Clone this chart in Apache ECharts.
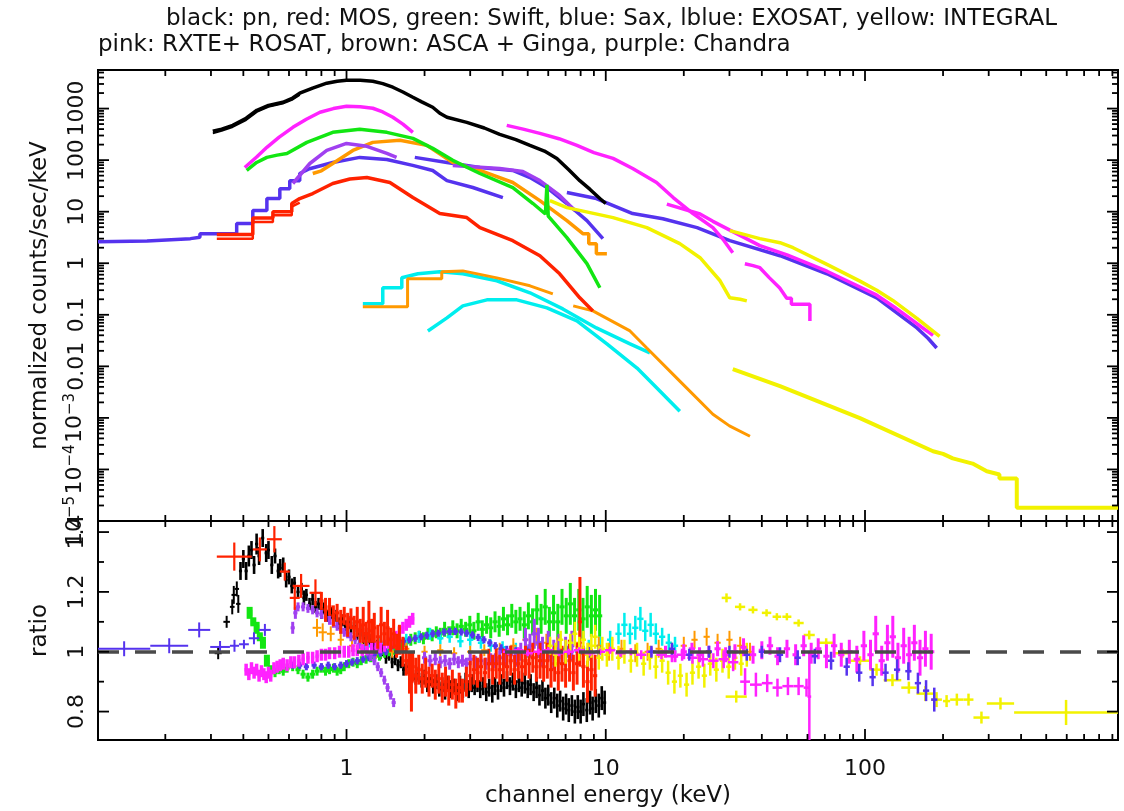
<!DOCTYPE html>
<html><head><meta charset="utf-8">
<script src="https://cdn.jsdelivr.net/npm/echarts@6/dist/echarts.min.js"></script>
<style>html,body{margin:0;padding:0;background:#fff}#c{width:1124px;height:811px}</style>
</head><body><div id="c"></div>
<script>
// ---------- axis ticks / labels ----------
var xRange = [0.11, 946];
var yTopRange = [1e-5, 5600];
var ratioRange = [0.705, 1.437];
var xMajorTicks = [1, 10, 100];
var xTickLabels = ['1', '10', '100'];
var xMinorTicks = [0.2,0.3,0.4,0.5,0.6,0.7,0.8,0.9,2,3,4,5,6,7,8,9,20,30,40,50,60,70,80,90,200,300,400,500,600,700,800,900];
var yTopMajorTicks = [1e-5,1e-4,1e-3,0.01,0.1,1,10,100,1000];
var yTopTickLabels = ['{b|10}{s|\u22125}','{b|10}{s|\u22124}','{b|10}{s|\u22123}','{b|0.01}','{b|0.1}','{b|1}','{b|10}','{b|100}','{b|1000}'];
var yTopMinorTicks = [2e-5,3e-5,4e-5,5e-5,6e-5,7e-5,8e-5,9e-5,2e-4,3e-4,4e-4,5e-4,6e-4,7e-4,8e-4,9e-4,2e-3,3e-3,4e-3,5e-3,6e-3,7e-3,8e-3,9e-3,0.02,0.03,0.04,0.05,0.06,0.07,0.08,0.09,0.2,0.3,0.4,0.5,0.6,0.7,0.8,0.9,2,3,4,5,6,7,8,9,20,30,40,50,60,70,80,90,200,300,400,500,600,700,800,900,2000,3000,4000,5000];
var ratioMajorTicks = [0.8, 1, 1.2, 1.4];
var ratioTickLabels = ['0.8', '1', '1.2', '1.4'];
var ratioMinorTicks = [0.9, 1.1, 1.3];
var ratioReference = 1;

// ---------- top panel: spectra [keV, counts/s/keV] ----------
var pnSpec = [[0.305,362],[0.33,400],[0.364,473],[0.41,650],[0.451,927],[0.50,1150],[0.568,1327],[0.62,1600],[0.66,1986],[0.74,2500],[0.839,3105],[0.92,3400],[1.0,3553],[1.13,3550],[1.263,3398],[1.38,3050],[1.509,2596],[1.65,2100],[1.803,1659],[1.95,1350],[2.15,1060],[2.3,800],[2.44,677],[2.91,541],[3.4,420],[3.9,316],[4.5,250],[5.1,193],[5.8,150],[6.48,108],[7.2,65],[7.94,40],[8.7,27],[9.49,18],[10.0,14.4]];
var pnModel = [[0.305,330],[0.33,370],[0.364,440],[0.41,600],[0.451,860],[0.50,1080],[0.568,1250],[0.62,1500],[0.66,1850]];
var mosSpec = [[0.316,3.6],[0.435,3.6],[0.435,7.5],[0.52,7.5],[0.52,10],[0.615,10],[0.615,14.4],[0.66,18],[0.741,22.5],[0.885,35.2],[1.03,43],[1.198,46],[1.47,36.8],[1.803,18.8],[2.29,9.2],[2.91,7.68],[3.27,4.9],[4.38,2.74],[5.57,1.4],[6.64,0.625],[7.94,0.213],[8.92,0.119]];
var mosModel = [[0.316,3.0],[0.435,3.0],[0.435,6.3],[0.52,6.3],[0.52,8.5],[0.615,8.5],[0.615,12.5],[0.66,15]];
var swiftSpec = [[0.412,63],[0.45,90],[0.493,113],[0.54,125],[0.589,135],[0.703,221],[0.885,346],[1.125,396],[1.431,346],[1.803,264],[2.15,169],[2.57,99],[3.27,55],[4.38,29.4],[5.24,14.4],[5.85,9.0],[5.93,33],[6.0,8.2],[7.08,3.13],[8.46,0.98],[9.49,0.334]];
var saxLecsSpec = [[0.11,2.6],[0.17,2.7],[0.25,3.0],[0.272,3.2],[0.272,3.75],[0.377,3.75],[0.377,5.9],[0.435,5.9],[0.435,10.5],[0.493,10.5],[0.493,18],[0.553,18],[0.553,28],[0.604,28],[0.604,40],[0.66,40],[0.66,55],[0.72,68],[0.885,90],[1.125,113],[1.43,103],[1.8,79],[2.15,63],[2.44,40],[3.07,29.4],[4.01,18.8]];
var saxMecsSpec = [[1.834,113],[2.44,90],[3.27,72],[4.38,63],[5.1,46],[5.93,29.4],[7.08,14.4],[8.46,6.71],[9.75,3.0]];
var saxPdsSpec = [[7.08,23.5],[9.2,18],[12.7,9.2],[16.6,7.3],[22.5,4.9],[30.1,2.74],[47,1.4],[71.3,0.625],[111,0.213],[158.6,0.0556],[175,0.035],[189,0.0227]];
var exosatLeSpec = [[1.156,0.163],[1.38,0.163],[1.38,0.334],[1.634,0.334],[1.634,0.522],[1.885,0.625],[2.29,0.684],[2.81,0.625],[3.8,0.457],[5.1,0.267],[6.83,0.13],[9.2,0.0556],[12.4,0.0272],[14.8,0.0182]];
var exosatMeSpec = [[2.06,0.0486],[2.44,0.087],[2.81,0.149],[3.48,0.195],[4.54,0.195],[5.93,0.136],[7.74,0.076],[10.1,0.0272],[13.2,0.00927],[16.2,0.0033],[19.3,0.00135]];
var ascaSpec = [[0.741,55],[0.8,62],[0.885,86],[1.058,154],[1.263,221],[1.606,242],[2.04,193],[2.57,90],[3.27,63],[4.38,36.8],[5.57,16.4],[7.08,6.7],[8.16,3.75],[8.6,3.75],[8.6,2.4],[9.2,2.4],[9.2,1.53],[10.1,1.53]];
var ascaLowSpec = [[1.156,0.143],[1.72,0.143],[1.72,0.5],[2.33,0.5],[2.33,0.68],[2.81,0.71],[3.8,0.52],[5.1,0.365],[6.25,0.255]];
var gingaSpec = [[7.49,0.149],[8.92,0.119],[12.4,0.0486],[14.4,0.0227],[19.3,0.00518],[25.9,0.00118],[30,0.0007],[36,0.00044]];
var chandraSpecA = [[0.621,35.2],[0.722,86],[0.839,154],[1.0,211],[1.198,185],[1.431,135],[1.56,113]];
var chandraSpecB = [[2.57,79],[3.9,69],[4.79,60],[5.57,40],[6.64,20.6],[7.6,10.5]];
var rosatSpec = [[0.405,72],[0.45,115],[0.493,177],[0.55,280],[0.621,433],[0.7,620],[0.79,847],[0.89,1000],[1.0,1109],[1.13,1090],[1.263,1014],[1.38,860],[1.509,677],[1.65,500],[1.803,346]];
var pcaSpec = [[4.15,473],[4.8,400],[5.57,331],[6.6,260],[7.74,193],[9,140],[10.67,108],[12.7,69],[15.7,36.8],[18.2,18.8],[21.7,9.2],[25.9,4.9],[28.5,2.8],[30.9,1.6]];
var hexteSpec = [[17.2,14],[23.1,9],[25.9,6.5],[39.3,2.2],[50,1.45],[71.3,0.7],[90,0.4],[111,0.24],[130,0.14],[149,0.085],[165,0.058],[183,0.04]];
var hexteLowSpec = [[34.4,0.98],[37,0.9],[39.3,0.82],[42.8,0.52],[46.9,0.33],[49.9,0.21],[52,0.21],[52,0.16],[61.3,0.16],[61.3,0.076]];
var jemxSpec = [[6.09,16.4],[7.08,12],[10.67,7.68],[14.4,4.9],[19.3,2.4],[23.1,1.28],[27.6,0.457],[30.1,0.213],[33,0.2],[35,0.186]];
var isgriSpec = [[30.1,4.3],[39.3,3.0],[47,2.5],[52.8,2.0],[71.3,0.95],[95.6,0.45],[111,0.3],[128,0.19],[158.6,0.085],[194,0.038]];
var spiSpec = [[30.9,0.00886],[47,0.00414],[95.6,0.00099],[183,0.000225],[200,0.0002],[218,0.000164],[260,0.00013],[295,0.000092],[330,0.00008],[330,0.000067],[385,0.000067],[385,0.000018],[946,0.000018]];

// ---------- bottom panel: ratios [keV, ratio, error] or [keVlo, keVhi, ratio, error] ----------
var pnRatioLow = [[0.31,0.33,0.995,0.02],[0.335,0.355,1.10,0.02],[0.355,0.37,1.15,0.025],[0.36,0.375,1.19,0.03],[0.37,0.385,1.21,0.025],[0.375,0.39,1.16,0.03]];
var pnRatio = [[0.39,1.27,.03],[0.40,1.31,.03],[0.41,1.27,.03],[0.42,1.32,.035],[0.43,1.34,.03],[0.44,1.29,.03],[0.45,1.36,.035],[0.46,1.32,.03],[0.475,1.38,.03],[0.49,1.33,.03],[0.50,1.34,.03],[0.515,1.29,.03],[0.53,1.32,.025],[0.545,1.27,.025],[0.555,1.28,.03],[0.57,1.29,.025],[0.585,1.24,.025],[0.60,1.25,.025],[0.615,1.22,.025],[0.63,1.23,.02],[0.65,1.20,.02],[0.67,1.21,.02],[0.685,1.18,.025],[0.70,1.19,.02],[0.72,1.16,.02],[0.74,1.175,.02],[0.76,1.15,.02],[0.78,1.16,.02],[0.80,1.13,.02],[0.82,1.145,.02],[0.845,1.12,.02],[0.87,1.13,.02],[0.89,1.11,.02],[0.915,1.12,.02],[0.94,1.095,.02],[0.965,1.105,.02],[0.99,1.085,.02],[1.015,1.10,.02],[1.04,1.08,.02],[1.07,1.085,.02],[1.10,1.06,.02],[1.13,1.07,.02],[1.16,1.045,.02],[1.19,1.06,.02],[1.22,1.035,.02],[1.25,1.04,.02],[1.28,1.015,.02],[1.315,1.02,.02],[1.35,0.995,.02],[1.385,1.005,.02],[1.42,0.98,.02],[1.46,0.99,.02],[1.50,0.965,.02],[1.54,0.975,.02],[1.58,0.955,.02],[1.62,0.965,.02],[1.66,0.94,.02],[1.70,0.95,.025],[1.75,0.925,.02],[1.80,0.935,.025],[1.85,0.91,.02],[1.90,0.925,.025],[1.95,0.90,.02],[2.0,0.915,.025],[2.05,0.89,.025],[2.10,0.905,.02],[2.16,0.885,.025],[2.22,0.90,.025],[2.28,0.875,.025],[2.34,0.89,.025],[2.40,0.87,.03],[2.47,0.895,.025],[2.53,0.875,.03],[2.60,0.885,.025],[2.66,0.865,.03],[2.74,0.89,.03],[2.81,0.87,.025],[2.88,0.90,.03],[2.96,0.875,.03],[3.04,0.895,.03],[3.12,0.88,.025],[3.20,0.895,.03],[3.28,0.875,.03],[3.37,0.885,.03],[3.46,0.865,.03],[3.55,0.88,.03],[3.65,0.86,.03],[3.74,0.885,.03],[3.84,0.87,.03],[3.95,0.895,.03],[4.05,0.88,.03],[4.16,0.905,.03],[4.27,0.885,.03],[4.38,0.90,.03],[4.50,0.875,.03],[4.62,0.90,.035],[4.74,0.88,.03],[4.87,0.895,.035],[5.0,0.875,.03],[5.13,0.89,.035],[5.27,0.865,.03],[5.41,0.88,.035],[5.55,0.855,.035],[5.7,0.87,.035],[5.85,0.845,.035],[6.0,0.855,.035],[6.16,0.83,.035],[6.33,0.845,.035],[6.5,0.82,.04],[6.67,0.835,.035],[6.85,0.81,.04],[7.03,0.825,.035],[7.2,0.805,.04],[7.4,0.82,.035],[7.6,0.80,.04],[7.8,0.815,.04],[8.0,0.80,.04],[8.2,0.825,.04],[8.45,0.805,.04],[8.7,0.83,.04],[8.9,0.81,.04],[9.15,0.835,.04],[9.4,0.82,.04],[9.65,0.845,.04],[9.9,0.83,.04]];
var mosRatioLow = [[0.316,0.431,1.318,0.047],[0.435,0.493,1.342,0.04],[0.493,0.563,1.376,0.044],[0.553,0.604,1.268,0.03],[0.604,0.66,1.18,0.04],[0.62,0.72,1.22,0.04],[0.72,0.80,1.197,0.045]];
var mosRatio = [[0.80,1.17,.03],[0.83,1.14,.04],[0.86,1.15,.03],[0.89,1.12,.035],[0.92,1.13,.03],[0.95,1.10,.04],[0.98,1.12,.03],[1.01,1.09,.04],[1.04,1.11,.035],[1.07,1.08,.04],[1.10,1.10,.05],[1.13,1.07,.04],[1.16,1.09,.06],[1.19,1.06,.04],[1.22,1.10,.07],[1.25,1.07,.04],[1.28,1.08,.05],[1.32,1.05,.04],[1.36,1.09,.06],[1.40,1.06,.04],[1.44,1.08,.06],[1.48,1.04,.04],[1.52,1.06,.05],[1.56,1.02,.04],[1.60,1.04,.05],[1.65,1.0,.05],[1.70,0.97,.05],[1.75,0.93,.07],[1.78,0.90,.10],[1.80,0.95,.05],[1.85,0.92,.06],[1.90,0.94,.05],[1.96,0.91,.05],[2.02,0.93,.05],[2.08,0.90,.05],[2.14,0.92,.04],[2.20,0.89,.05],[2.27,0.91,.05],[2.34,0.88,.05],[2.41,0.90,.05],[2.48,0.87,.05],[2.56,0.89,.05],[2.64,0.86,.05],[2.72,0.88,.05],[2.80,0.87,.04],[2.90,0.90,.05],[3.0,0.92,.05],[3.1,0.94,.05],[3.2,0.93,.05],[3.3,0.95,.05],[3.42,0.93,.05],[3.54,0.96,.05],[3.66,0.94,.05],[3.78,0.96,.05],[3.9,0.94,.05],[4.03,0.96,.05],[4.16,0.95,.05],[4.3,0.97,.05],[4.45,0.94,.05],[4.6,0.96,.05],[4.75,0.95,.05],[4.9,0.97,.05],[5.06,0.96,.05],[5.23,0.98,.05],[5.4,0.95,.05],[5.58,0.97,.06],[5.76,0.95,.05],[5.95,0.97,.06],[6.15,0.94,.06],[6.35,0.96,.06],[6.56,0.93,.06],[6.78,0.96,.06],[7.0,0.94,.06],[7.25,0.97,.07],[7.5,0.93,.06],[7.75,0.96,.07],[7.95,1.10,.15],[8.2,0.95,.07],[8.5,0.90,.07],[8.8,0.94,.07],[9.1,0.92,.07]];
var swiftRatioLow = [[0.423,1.13,.02],[0.437,1.10,.015],[0.45,1.08,.02],[0.463,1.05,.015],[0.476,1.03,.02],[0.493,0.97,.02],[0.51,0.94,.015]];
var swiftRatio = [[0.53,0.93,.015],[0.55,0.94,.015],[0.57,0.935,.015],[0.59,0.945,.015],[0.62,0.95,.015],[0.65,0.94,.015],[0.68,0.925,.015],[0.71,0.915,.015],[0.74,0.925,.015],[0.77,0.935,.015],[0.80,0.945,.015],[0.83,0.935,.015],[0.86,0.94,.015],[0.89,0.945,.015],[0.92,0.935,.015],[0.95,0.94,.015],[0.98,0.95,.015],[1.02,0.96,.015],[1.06,0.965,.015],[1.10,0.96,.015],[1.14,0.97,.015],[1.19,0.975,.015],[1.24,0.98,.015],[1.29,0.99,.015],[1.34,0.985,.015],[1.40,0.995,.015],[1.46,1.0,.015],[1.52,1.005,.015],[1.58,1.01,.015],[1.64,1.02,.02],[1.70,1.03,.02],[1.77,1.04,.02],[1.84,1.045,.02],[1.91,1.05,.02],[1.98,1.045,.02],[2.06,1.06,.02],[2.14,1.055,.02],[2.22,1.065,.02],[2.30,1.06,.02],[2.39,1.075,.025],[2.48,1.065,.02],[2.57,1.08,.025],[2.67,1.07,.025],[2.77,1.085,.025],[2.88,1.075,.025],[2.99,1.09,.03],[3.1,1.07,.03],[3.22,1.10,.03],[3.34,1.075,.03],[3.47,1.09,.03],[3.6,1.08,.035],[3.74,1.10,.035],[3.88,1.085,.035],[4.03,1.11,.04],[4.18,1.09,.035],[4.34,1.12,.04],[4.5,1.10,.04],[4.67,1.11,.04],[4.85,1.09,.045],[5.03,1.12,.045],[5.22,1.10,.045],[5.42,1.14,.05],[5.63,1.11,.05],[5.84,1.15,.06],[6.06,1.10,.05],[6.29,1.13,.06],[6.53,1.10,.06],[6.78,1.15,.06],[7.04,1.12,.06],[7.3,1.16,.07],[7.58,1.12,.06],[7.87,1.14,.07],[8.17,1.11,.07],[8.48,1.15,.07],[8.8,1.12,.07],[9.13,1.14,.07],[9.47,1.12,.07]];
var saxRatioLow = [[0.11,0.175,1.01,0.025],[0.175,0.245,1.02,0.025],[0.245,0.298,1.073,0.025],[0.298,0.355,1.016,0.02],[0.355,0.385,1.02,0.02],[0.385,0.42,1.025,0.015],[0.42,0.46,1.045,0.02],[0.46,0.51,1.073,0.02]];
var saxRatio = [[0.62,0.955,.012],[0.66,0.955,.012],[0.70,0.95,.012],[0.75,0.955,.012],[0.80,0.95,.012],[0.85,0.955,.012],[0.90,0.95,.012],[0.95,0.955,.012],[1.0,0.96,.012],[1.05,0.965,.012],[1.1,0.97,.012],[1.16,0.975,.012],[1.22,0.98,.012],[1.28,0.99,.012],[1.35,0.995,.012],[1.42,1.0,.012],[1.5,1.02,.012],[1.58,1.03,.012],[1.66,1.035,.012],[1.75,1.04,.012],[1.84,1.045,.012],[1.94,1.05,.012],[2.04,1.055,.012],[2.15,1.06,.012],[2.26,1.062,.012],[2.38,1.066,.012],[2.5,1.068,.012],[2.63,1.068,.012],[2.77,1.066,.012],[2.91,1.062,.012],[3.06,1.056,.012],[3.22,1.048,.012],[3.39,1.04,.012],[3.57,1.03,.012],[3.75,1.02,.012],[3.95,1.01,.015],[4.15,1.005,.015],[4.5,1.0,.015],[5.0,1.0,.015],[5.5,0.995,.015],[6.0,1.0,.02],[6.6,0.995,.02],[7.2,1.0,.02],[7.9,0.995,.02],[8.6,1.0,.02],[9.4,1.0,.02]];
var saxPdsRatio = [[15,1.0,.02],[18,1.01,.02],[21,0.99,.02],[25,1.0,.02],[30,1.0,.02],[35,0.99,.02],[40,1.0,.02],[47,0.99,.025],[55,0.98,.025],[64,0.985,.025],[74,0.97,.03],[85,0.95,.03],[95,0.93,.03],[107,0.915,.03],[120,0.93,.03],[133,0.94,.035],[147,0.935,.03],[160,0.895,.035],[172,0.87,.035],[185,0.84,.04]];
var chandraRatioA = [[0.62,1.08,.02],[0.635,1.13,.02],[0.65,1.15,.015],[0.68,1.15,.015],[0.71,1.145,.015],[0.74,1.14,.015],[0.77,1.13,.015],[0.80,1.125,.015],[0.83,1.115,.015],[0.86,1.105,.015],[0.89,1.095,.015],[0.92,1.085,.015],[0.95,1.075,.015],[0.98,1.065,.015],[1.01,1.06,.015],[1.04,1.05,.015],[1.08,1.04,.015],[1.12,1.025,.015],[1.16,1.01,.015],[1.2,1.0,.015],[1.24,0.985,.015],[1.28,0.97,.015],[1.32,0.95,.015],[1.36,0.93,.015],[1.40,0.905,.015],[1.44,0.88,.015],[1.48,0.855,.015],[1.52,0.83,.015]];
var chandraRatioB = [[2.0,0.98,.02],[2.1,0.97,.02],[2.2,0.975,.02],[2.3,0.965,.02],[2.4,0.97,.02],[2.5,0.96,.02],[2.6,0.975,.02],[2.7,0.965,.02],[2.8,0.97,.02],[2.9,0.96,.02],[3.0,0.975,.02],[3.15,0.965,.02],[3.3,0.97,.02],[3.45,0.96,.02],[3.6,0.975,.02],[3.75,0.97,.025],[3.9,0.98,.025],[4.1,0.975,.025],[4.3,0.99,.03],[4.5,0.98,.03],[4.7,1.0,.03],[4.9,1.04,.04],[5.1,1.02,.04],[5.3,1.06,.05],[5.5,1.03,.05],[5.7,1.0,.05],[6.0,1.02,.05],[6.3,0.99,.05],[6.6,1.01,.05],[7.0,1.0,.05],[7.4,1.02,.05]];
var rosatRatio = [[0.41,0.94,.02],[0.42,0.925,.02],[0.43,0.945,.02],[0.44,0.93,.02],[0.45,0.94,.02],[0.46,0.92,.02],[0.47,0.935,.02],[0.48,0.925,.02],[0.49,0.915,.02],[0.50,0.93,.02],[0.51,0.92,.02],[0.525,0.945,.02],[0.54,0.95,.02],[0.555,0.955,.02],[0.57,0.96,.02],[0.59,0.955,.02],[0.61,0.965,.02],[0.63,0.965,.02],[0.655,0.97,.02],[0.68,0.975,.02],[0.71,0.98,.02],[0.74,0.98,.02],[0.77,0.985,.02],[0.80,0.99,.02],[0.83,0.99,.02],[0.86,0.995,.02],[0.90,0.995,.02],[0.94,1.0,.02],[0.98,1.0,.02],[1.02,1.0,.02],[1.06,1.005,.02],[1.10,1.005,.02],[1.15,1.005,.02],[1.20,1.01,.02],[1.25,1.01,.02],[1.30,1.015,.02],[1.35,1.015,.02],[1.40,1.02,.02],[1.45,1.03,.02],[1.50,1.04,.02],[1.55,1.05,.02],[1.60,1.065,.02],[1.65,1.08,.02],[1.70,1.09,.02],[1.75,1.10,.02],[1.80,1.11,.02]];
var pcaRatio = [[4.2,1.0,.01],[4.6,1.005,.01],[5.0,0.995,.01],[5.5,1.0,.01],[6.0,1.005,.01],[6.6,0.995,.01],[7.2,1.0,.01],[7.9,1.005,.01],[8.7,0.995,.01],[9.5,1.0,.01],[10.4,1.005,.012],[11.4,0.995,.012],[12.5,1.0,.012],[13.7,0.99,.015],[15.0,1.0,.015],[16.4,0.99,.015],[18.0,0.985,.02],[19.7,0.99,.02],[21.6,0.98,.02],[23.7,0.975,.025],[26,0.97,.025],[28.5,0.975,.03],[31,0.965,.03]];
var hexteRatio = [[17,1.0,.02],[18.5,0.985,.02],[20,1.0,.025],[21.5,1.01,.02],[23,0.99,.025],[25,1.0,.02],[27,1.01,.025],[29,0.99,.025],[31.5,1.0,.025],[34,1.015,.03],[37,0.99,.03],[40,1.005,.03],[43,1.02,.03],[46,0.985,.03],[50,1.01,.03],[54,0.99,.035],[58,1.02,.035],[62,0.995,.035],[66,1.01,.035],[71,0.985,.04],[76,1.02,.04],[81,0.99,.04],[87,1.0,.04],[93,0.975,.045],[99,1.02,.05],[105,0.99,.05],[110,1.06,.06],[116,0.97,.05],[122,1.03,.06],[128,1.05,.07],[134,0.98,.05],[141,1.02,.06],[148,0.99,.06],[155,1.03,.06],[163,0.98,.06],[171,1.01,.06],[180,1.0,.06]];
var hexteLowRatio = [[33,36,0.90,0.045],[36,40,0.89,0.04],[40,44,0.895,0.03],[44,48,0.88,0.03],[48,53,0.885,0.03],[53,58,0.885,0.03],[58,61,0.88,0.03],[60,62,0.85,0.15]];
var exosatRatio = [[1.2,1.02,.02],[1.35,1.03,.02],[1.5,1.02,.02],[1.7,1.04,.02],[1.9,1.05,.02],[2.1,1.06,.02],[2.3,1.045,.02],[2.5,1.05,.02],[2.75,1.035,.02],[3.0,1.04,.02],[3.3,1.03,.02],[3.6,1.02,.02],[4.0,1.015,.02],[4.5,1.01,.02],[5.0,1.0,.02],[5.6,1.01,.025],[6.3,1.0,.025],[7.0,1.01,.025],[7.8,1.0,.025],[8.6,1.01,.03],[9.5,1.02,.03],[10.4,1.04,.03],[11.2,1.06,.035],[11.8,1.09,.04],[12.4,1.06,.035],[13.0,1.08,.04],[13.6,1.11,.04],[14.2,1.07,.035],[14.9,1.09,.04],[15.6,1.06,.035],[16.5,1.05,.03],[17.5,1.03,.03],[18.5,1.02,.03]];
var ascaRatioLow = [[0.74,0.80,1.08,0.03],[0.78,0.84,1.065,0.03],[0.84,0.90,1.06,0.025]];
var ascaRatio = [[0.95,1.04,.02],[1.05,1.02,.02],[1.15,1.01,.02],[1.3,1.0,.02],[1.5,1.0,.02],[1.7,1.01,.02],[2.0,1.0,.02],[2.3,1.005,.02],[2.6,0.995,.02],[3.0,1.0,.02],[3.4,1.005,.02],[3.9,1.01,.02],[4.4,1.02,.025],[4.9,1.04,.03],[5.4,1.05,.03],[5.9,1.03,.03],[6.5,1.02,.03],[7.2,1.01,.03],[7.9,1.03,.04],[8.6,1.0,.03],[9.4,1.02,.03],[10.3,1.0,.03],[11.5,1.01,.03],[13,0.995,.03],[14.5,1.0,.03],[16,1.01,.03],[18,1.0,.03],[20,1.02,.03],[22,1.04,.03],[24.5,1.05,.03],[27,1.03,.03],[30,1.04,.03],[33,1.02,.03],[36,1.0,.03]];
var jemxRatio = [[6.1,1.02,.03],[6.4,0.99,.04],[6.7,1.04,.03],[7.0,1.0,.04],[7.3,1.03,.03],[7.6,1.06,.04],[7.9,1.01,.04],[8.2,1.04,.03],[8.5,0.99,.04],[8.8,1.02,.04],[9.1,1.05,.04],[9.4,0.98,.04],[9.7,1.01,.04],[10.1,0.99,.04],[10.6,1.01,.04],[11.2,0.98,.04],[11.8,1.0,.04],[12.5,0.97,.04],[13.2,0.99,.04],[14.0,0.96,.04],[14.8,0.98,.04],[15.6,0.95,.04],[16.5,0.97,.04],[17.4,0.93,.04],[18.4,0.90,.04],[19.4,0.92,.04],[20.5,0.89,.04],[21.6,0.93,.04],[22.8,0.95,.04],[24,0.92,.04],[25.3,0.96,.04],[26.7,0.94,.04],[28.2,0.97,.04],[29.8,0.95,.04],[31.5,0.98,.04],[33.3,0.96,.04],[35,0.99,.04]];
var isgriRatio = [[28,30.5,1.18,0.015],[31.5,34.5,1.15,0.012],[35.5,38.5,1.14,0.012],[40,43.5,1.13,0.012],[44,47.5,1.117,0.012],[48,52,1.117,0.012],[53,58,1.096,0.012],[58,64,1.056,0.015],[66,76,1.03,0.015],[76,88,0.995,0.015],[88,104,0.97,0.015],[104,118,0.94,0.02],[118,138,0.905,0.02],[138,158,0.88,0.02],[158,185,0.86,0.025],[180,198,0.84,0.025]];
var spiRatio = [[29,35,0.85,0.02],[200,213,0.835,0.02],[213,240,0.84,0.02],[240,262,0.84,0.02],[262,302,0.78,0.02],[295,376,0.827,0.02],[376,946,0.797,0.042]];

// ---------- styles ----------
var COL = {pn:'#000000', mos:'#ff2200', swift:'#12e612', sax:'#5533ee', exosat:'#00eeee', integral:'#f2f200', rxte:'#ff22ff', asca:'#ff9900', chandra:'#a040f0'};
var FONT = 'DejaVu Sans';
var TXT = '#111111';

function near(a, b) { return Math.abs(Math.log(a) - Math.log(b)) < 1e-6; }
function lookup(v, ticks, labels) {
  for (var i = 0; i < ticks.length; i++) { if (near(v, ticks[i])) return labels[i]; }
  return '';
}
function lineEl(x1, y1, x2, y2, color, w) {
  return {type:'line', shape:{x1:x1, y1:y1, x2:x2, y2:y2}, style:{stroke:color, lineWidth:w}};
}
function denseRender(hw, color, lw) {
  var f = Math.pow(10, hw);
  return function (params, api) {
    var e = api.value(0), r = api.value(1), er = api.value(2);
    var a = api.coord([e / f, r]), b = api.coord([e * f, r]);
    var c = api.coord([e, r + er]), d = api.coord([e, r - er]);
    return {type:'group', children:[lineEl(a[0],a[1],b[0],b[1],color,lw), lineEl(c[0],c[1],d[0],d[1],color,lw)]};
  };
}
function crossRender(color, lw) {
  return function (params, api) {
    var lo = api.value(0), hi = api.value(1), r = api.value(2), er = api.value(3);
    var e = Math.sqrt(lo * hi);
    var a = api.coord([lo, r]), b = api.coord([hi, r]);
    var c = api.coord([e, r + er]), d = api.coord([e, r - er]);
    return {type:'group', children:[lineEl(a[0],a[1],b[0],b[1],color,lw), lineEl(c[0],c[1],d[0],d[1],color,lw)]};
  };
}
function spec(data, color, w) {
  return {type:'line', xAxisIndex:0, yAxisIndex:0, data:data, symbol:'none', showSymbol:false, silent:true,
          lineStyle:{color:color, width:w || 3.5}, z:2};
}
function dense(data, hw, color, lw) {
  return {type:'custom', xAxisIndex:1, yAxisIndex:1, data:data, encode:{x:0, y:1}, clip:true, silent:true,
          renderItem:denseRender(hw, color, lw || 2), z:2};
}
function cross(data, color, lw) {
  return {type:'custom', xAxisIndex:1, yAxisIndex:1, data:data, encode:{x:[0,1], y:2}, clip:true, silent:true,
          renderItem:crossRender(color, lw || 2), z:2};
}
function xTicks(gi, vals, len, yr) {
  return {type:'custom', xAxisIndex:gi, yAxisIndex:gi, silent:true, z:10,
    data: vals.map(function (v) { return [v, yr[0]]; }), encode:{x:0, y:1},
    renderItem: function (p, api) {
      var v = api.value(0), b = api.coord([v, yr[0]]), t = api.coord([v, yr[1]]);
      return {type:'group', children:[lineEl(b[0],b[1],b[0],b[1]-len,'#000',1.8), lineEl(t[0],t[1],t[0],t[1]+len,'#000',1.8)]};
    }};
}
function yTicks(gi, vals, len) {
  return {type:'custom', xAxisIndex:gi, yAxisIndex:gi, silent:true, z:10,
    data: vals.map(function (v) { return [xRange[0], v]; }), encode:{x:0, y:1},
    renderItem: function (p, api) {
      var v = api.value(1), l = api.coord([xRange[0], v]), r = api.coord([xRange[1], v]);
      return {type:'group', children:[lineEl(l[0],l[1],l[0]+len,l[1],'#000',1.8), lineEl(r[0],r[1],r[0]-len,r[1],'#000',1.8)]};
    }};
}

var chart = echarts.init(document.getElementById('c'), null, {renderer:'canvas'});
var series = [
  // top panel
  spec(saxLecsSpec, COL.sax), spec(saxMecsSpec, COL.sax), spec(saxPdsSpec, COL.sax),
  spec(exosatLeSpec, COL.exosat), spec(exosatMeSpec, COL.exosat),
  spec(ascaLowSpec, COL.asca, 3), spec(gingaSpec, COL.asca, 3), spec(ascaSpec, COL.asca),
  spec(chandraSpecA, COL.chandra), spec(chandraSpecB, COL.chandra),
  spec(swiftSpec, COL.swift), spec(mosModel, COL.mos, 2.5), spec(mosSpec, COL.mos),
  spec(rosatSpec, COL.rxte), spec(pcaSpec, COL.rxte), spec(hexteSpec, COL.rxte), spec(hexteLowSpec, COL.rxte),
  spec(jemxSpec, COL.integral), spec(isgriSpec, COL.integral), spec(spiSpec, COL.integral, 4),
  spec(pnModel, COL.pn, 2), spec(pnSpec, COL.pn, 3.5),
  // bottom panel
  cross(pnRatioLow, COL.pn), dense(pnRatio, 0.006, COL.pn, 2.6),
  dense(swiftRatioLow, 0.01, COL.swift, 6), dense(swiftRatio, 0.01, COL.swift, 3),
  dense(exosatRatio, 0.012, COL.exosat, 2.5),
  cross(ascaRatioLow, COL.asca), dense(ascaRatio, 0.012, COL.asca),
  cross(saxRatioLow, COL.sax), dense(saxRatio, 0.01, COL.sax, 3),
  dense(chandraRatioA, 0.008, COL.chandra, 3), dense(chandraRatioB, 0.01, COL.chandra, 3),
  dense(rosatRatio, 0.006, COL.rxte, 3.5),
  cross(mosRatioLow, COL.mos, 2.2), dense(mosRatio, 0.008, COL.mos, 3),
  dense(jemxRatio, 0.01, COL.integral, 2.5), cross(isgriRatio, COL.integral, 2.5), cross(spiRatio, COL.integral, 2.5),
  dense(pcaRatio, 0.02, COL.rxte, 2.5), dense(hexteRatio, 0.012, COL.rxte, 3), cross(hexteLowRatio, COL.rxte, 2.5),
  dense(saxPdsRatio, 0.012, COL.sax, 2.5),
  {type:'line', xAxisIndex:1, yAxisIndex:1, data:[], silent:true,
   markLine:{silent:true, symbol:'none', label:{show:false}, data:[{yAxis:ratioReference}],
             lineStyle:{color:'#4a4a4a', width:3.5, type:[21,16]}}},
  // frame ticks
  xTicks(0, xMajorTicks, 11, yTopRange), xTicks(0, xMinorTicks, 6, yTopRange),
  yTicks(0, yTopMajorTicks, 11), yTicks(0, yTopMinorTicks, 6),
  xTicks(1, xMajorTicks, 11, ratioRange), xTicks(1, xMinorTicks, 6, ratioRange),
  yTicks(1, ratioMajorTicks, 11), yTicks(1, ratioMinorTicks, 6)
];

var hidden = {axisLine:{show:false}, axisTick:{show:false}, splitLine:{show:false}};
var option = {
  animation:false,
  backgroundColor:'#ffffff',
  title:[
    {text:'black: pn, red: MOS, green: Swift, blue: Sax, lblue: EXOSAT, yellow: INTEGRAL', left:166, top:8, padding:0,
     textStyle:{fontFamily:FONT, fontSize:23, fontWeight:'normal', color:TXT}},
    {text:'pink: RXTE+ ROSAT, brown: ASCA + Ginga, purple: Chandra', left:98, top:34, padding:0,
     textStyle:{fontFamily:FONT, fontSize:23, fontWeight:'normal', color:TXT}}
  ],
  grid:[
    {left:98, top:70, width:1020, height:451, show:true, borderColor:'#000', borderWidth:2, backgroundColor:'transparent'},
    {left:98, top:521, width:1020, height:219, show:true, borderColor:'#000', borderWidth:2, backgroundColor:'transparent'}
  ],
  xAxis:[
    Object.assign({gridIndex:0, type:'log', logBase:10, min:xRange[0], max:xRange[1], axisLabel:{show:false}}, hidden),
    Object.assign({gridIndex:1, type:'log', logBase:10, min:xRange[0], max:xRange[1],
      axisLabel:{fontFamily:FONT, fontSize:22, color:TXT, margin:18, showMinLabel:true, showMaxLabel:true,
                 formatter:function (v) { return lookup(v, xMajorTicks, xTickLabels); }},
      name:'channel energy (keV)', nameLocation:'middle', nameGap:45,
      nameTextStyle:{fontFamily:FONT, fontSize:23, color:TXT}}, hidden)
  ],
  yAxis:[
    Object.assign({gridIndex:0, type:'log', logBase:10, min:yTopRange[0], max:yTopRange[1],
      axisLabel:{rotate:90, margin:10, showMinLabel:true, showMaxLabel:true, color:TXT,
                 formatter:function (v) { return lookup(v, yTopMajorTicks, yTopTickLabels); },
                 rich:{b:{fontFamily:FONT, fontSize:22, color:TXT}, s:{fontFamily:FONT, fontSize:15, color:TXT, padding:[0,0,10,0]}}},
      name:'normalized counts/sec/keV', nameLocation:'middle', nameGap:46, nameRotate:90,
      nameTextStyle:{fontFamily:FONT, fontSize:23, color:TXT}}, hidden),
    Object.assign({gridIndex:1, type:'value', min:ratioRange[0], max:ratioRange[1], splitNumber:3,
      axisLabel:{rotate:90, margin:10, showMinLabel:true, showMaxLabel:true, fontFamily:FONT, fontSize:22, color:TXT,
                 formatter:function (v) { return lookup(v, ratioMajorTicks, ratioTickLabels); }},
      name:'ratio', nameLocation:'middle', nameGap:46, nameRotate:90,
      nameTextStyle:{fontFamily:FONT, fontSize:23, color:TXT}}, hidden)
  ],
  series:series
};
chart.setOption(option);
</script></body></html>
